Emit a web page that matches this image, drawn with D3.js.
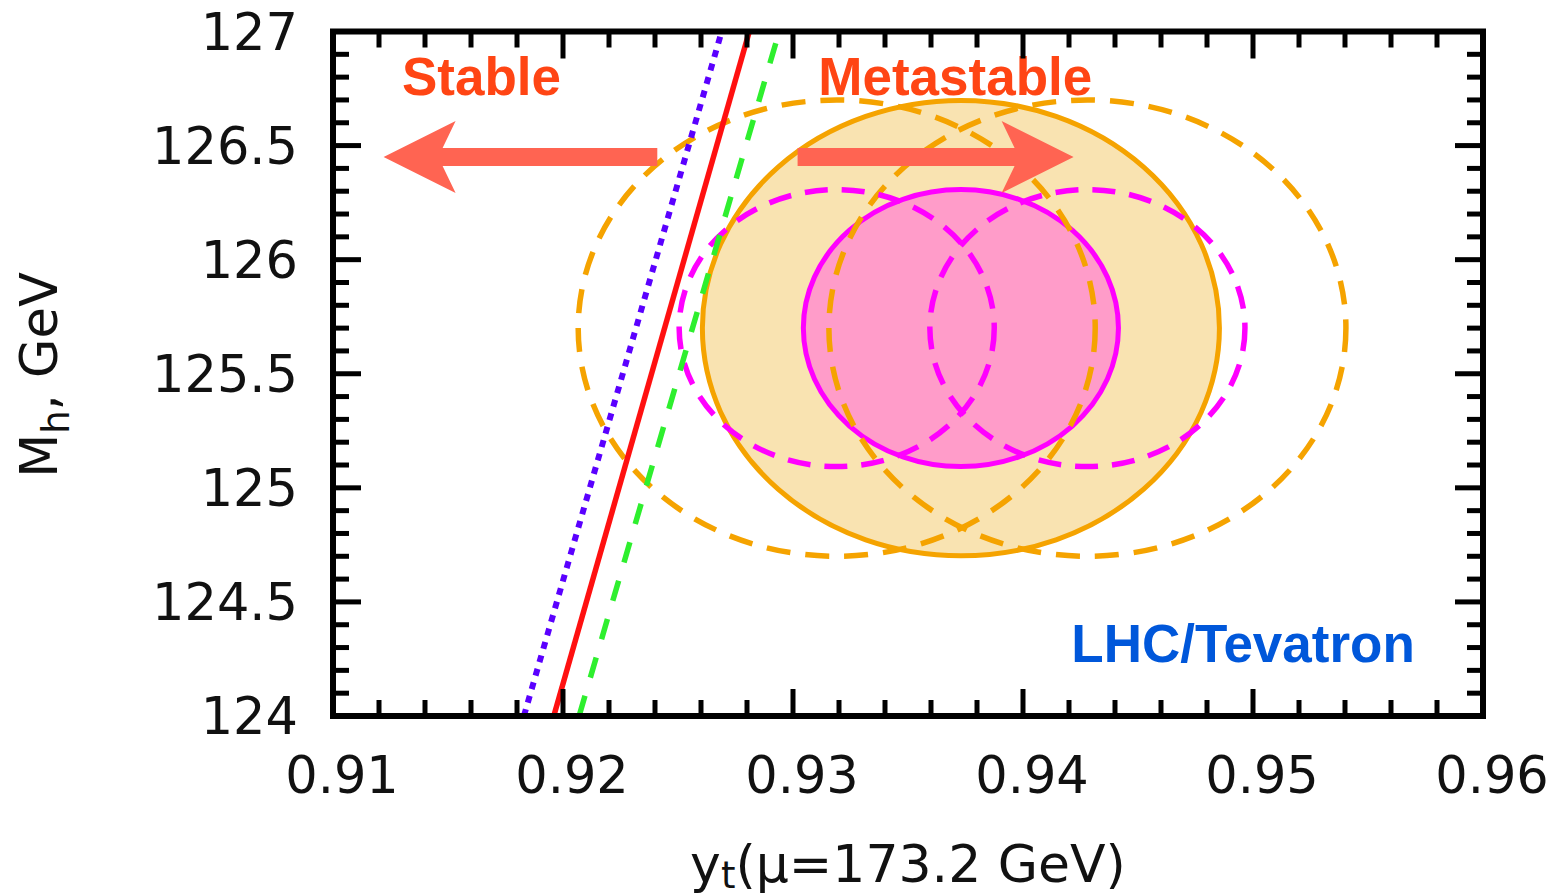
<!DOCTYPE html>
<html><head><meta charset="utf-8">
<script src="https://cdn.jsdelivr.net/npm/d3@7"></script>
<style>html,body{margin:0;padding:0;background:#fff;overflow:hidden}</style>
</head><body>
<svg id="chart" width="1558" height="896"></svg>
<script>
// ---------- data ----------
const xDomain = [0.91, 0.96];
const yDomain = [124, 127];
const xMajorTicks = [0.91, 0.92, 0.93, 0.94, 0.95, 0.96];
const xTickLabels = ["0.91", "0.92", "0.93", "0.94", "0.95", "0.96"];
const yMajorTicks = [124, 124.5, 125, 125.5, 126, 126.5, 127];
const yTickLabels = ["124", "124.5", "125", "125.5", "126", "126.5", "127"];
const xMinorStep = 0.002;
const yMinorStep = 0.1;

// stability boundary lines: y_t at M_h = 124 and at M_h = 127
const lineNames = ["blueDotted", "redSolid", "greenDashed"];
const lineYtBottom = [0.9183, 0.9196, 0.9207];
const lineYtTop = [0.9269, 0.9281, 0.9294];
const lineMh = [124, 127];

// ellipses (center y_t, center M_h, semi-axis y_t, semi-axis M_h)
const ellipseNames = ["orangeFilled", "magentaFilled", "orangeDashL", "orangeDashR", "magentaDashL", "magentaDashR"];
const ellipseCx = [0.9373, 0.9373, 0.9319, 0.9428, 0.9319, 0.9428];
const ellipseCy = [125.70, 125.70, 125.70, 125.70, 125.70, 125.70];
const ellipseRx = [0.01124, 0.00685, 0.01124, 0.01124, 0.00685, 0.00685];
const ellipseRy = [0.998, 0.607, 1.0, 1.0, 0.607, 0.607];

// arrows and annotations
const arrowTail = [0.9241, 0.9302];
const arrowTip = [0.9122, 0.9422];
const arrowMh = [126.45, 126.45];
const labelTexts = ["Stable", "Metastable", "LHC/Tevatron"];
const labelYt = [0.9130, 0.9311, 0.9421];
const labelMh = [126.72, 126.72, 124.235];

// ---------- drawing ----------
const svg = d3.select("#chart");
const x = d3.scaleLinear().domain(xDomain).range([333, 1483]);
const y = d3.scaleLinear().domain(yDomain).range([716, 31.5]);

const ellStyles = {
  orangeFilled: {fill: "#F9E3B1", stroke: "#F5A300", dash: null, w: 5},
  magentaFilled: {fill: "#FF9CC9", stroke: "#FF00FF", dash: null, w: 5},
  orangeDashL: {fill: "none", stroke: "#F5A300", dash: "24,15", w: 5.5},
  orangeDashR: {fill: "none", stroke: "#F5A300", dash: "24,15", w: 5.5},
  magentaDashL: {fill: "none", stroke: "#FF00FF", dash: "23,14", w: 5.5},
  magentaDashR: {fill: "none", stroke: "#FF00FF", dash: "23,14", w: 5.5}
};
const ellipses = ellipseNames.map((n, i) => ({name: n, cx: ellipseCx[i], cy: ellipseCy[i], rx: ellipseRx[i], ry: ellipseRy[i]}));

svg.append("clipPath").attr("id", "plotclip").append("rect")
  .attr("x", x(xDomain[0])).attr("y", y(yDomain[1]))
  .attr("width", x(xDomain[1]) - x(xDomain[0])).attr("height", y(yDomain[0]) - y(yDomain[1]));

const plot = svg.append("g").attr("clip-path", "url(#plotclip)");

plot.selectAll("ellipse.e").data(ellipses).enter().append("ellipse")
  .attr("cx", d => x(d.cx)).attr("cy", d => y(d.cy))
  .attr("rx", d => x(d.cx + d.rx) - x(d.cx))
  .attr("ry", d => y(d.cy) - y(d.cy + d.ry))
  .attr("fill", d => ellStyles[d.name].fill)
  .attr("stroke", d => ellStyles[d.name].stroke)
  .attr("stroke-width", d => ellStyles[d.name].w)
  .attr("stroke-dasharray", d => ellStyles[d.name].dash);

const lineStyles = {
  blueDotted: {stroke: "#5A00FF", width: 6, dash: "7,7"},
  redSolid: {stroke: "#FF1010", width: 5.5, dash: null},
  greenDashed: {stroke: "#2EEF2E", width: 5.5, dash: "21,19"}
};
const lineGen = d3.line().x(d => x(d[0])).y(d => y(d[1]));
lineNames.forEach((n, i) => {
  const pts = [[lineYtBottom[i], lineMh[0]], [lineYtTop[i], lineMh[1]]];
  plot.append("path").attr("d", lineGen(pts)).attr("fill", "none")
    .attr("stroke", lineStyles[n].stroke).attr("stroke-width", lineStyles[n].width)
    .attr("stroke-dasharray", lineStyles[n].dash);
});

// arrows
arrowTail.forEach((t, i) => {
  const tx = x(t), px = x(arrowTip[i]), cy = y(arrowMh[i]);
  const d = Math.sign(px - tx);
  const hw = 9, hh = 36, hl = 72, neck = 59;
  const pts = [[tx, cy - hw], [px - d * neck, cy - hw], [px - d * hl, cy - hh], [px, cy],
               [px - d * hl, cy + hh], [px - d * neck, cy + hw], [tx, cy + hw]];
  svg.append("path").attr("d", "M" + pts.map(p => p.join(",")).join("L") + "Z")
    .attr("fill", "#FF6452");
});

// labels
const labelColors = ["#FF4514", "#FF4514", "#0057DA"];
labelTexts.forEach((t, i) => {
  svg.append("text").attr("x", x(labelYt[i])).attr("y", y(labelMh[i]))
    .attr("font-family", "'Liberation Sans', Arial, sans-serif").attr("font-weight", "bold")
    .attr("font-size", 53).attr("fill", labelColors[i]).text(t);
});

// frame
const fx0 = x(xDomain[0]), fx1 = x(xDomain[1]), fy0 = y(yDomain[1]), fy1 = y(yDomain[0]);
const axG = svg.append("g").attr("stroke", "#000").attr("stroke-width", 5);
const xMinor = d3.range(xDomain[0] + xMinorStep, xDomain[1] - 1e-9, xMinorStep);
const yMinor = d3.range(yDomain[0] + yMinorStep, yDomain[1] - 1e-9, yMinorStep);
const isMajorX = v => xMajorTicks.some(m => Math.abs(m - v) < 1e-6);
const isMajorY = v => yMajorTicks.some(m => Math.abs(m - v) < 1e-6);
xMinor.forEach(v => {
  const len = isMajorX(v) ? 27 : 16;
  axG.append("line").attr("x1", x(v)).attr("x2", x(v)).attr("y1", fy0).attr("y2", fy0 + len);
  axG.append("line").attr("x1", x(v)).attr("x2", x(v)).attr("y1", fy1).attr("y2", fy1 - len);
});
yMinor.forEach(v => {
  const len = isMajorY(v) ? 28 : 16;
  axG.append("line").attr("y1", y(v)).attr("y2", y(v)).attr("x1", fx0).attr("x2", fx0 + len);
  axG.append("line").attr("y1", y(v)).attr("y2", y(v)).attr("x1", fx1).attr("x2", fx1 - len);
});
svg.append("rect").attr("x", fx0).attr("y", fy0).attr("width", fx1 - fx0).attr("height", fy1 - fy0)
  .attr("fill", "none").attr("stroke", "#000").attr("stroke-width", 6);

// tick labels
const tickFont = "'DejaVu Sans', sans-serif";
xMajorTicks.forEach((v, i) => {
  svg.append("text").attr("x", x(v) + 9).attr("y", 793).attr("text-anchor", "middle")
    .attr("font-family", tickFont).attr("font-size", 51).attr("fill", "#111").text(xTickLabels[i]);
});
yMajorTicks.forEach((v, i) => {
  svg.append("text").attr("x", 298).attr("y", y(v) + 18).attr("text-anchor", "end")
    .attr("font-family", tickFont).attr("font-size", 51).attr("fill", "#111").text(yTickLabels[i]);
});

// axis titles
const xt = svg.append("text").attr("x", 908).attr("y", 882).attr("text-anchor", "middle")
  .attr("font-family", tickFont).attr("font-size", 52).attr("fill", "#111");
xt.append("tspan").text("y");
xt.append("tspan").attr("font-size", 37).attr("dy", 6).text("t");
xt.append("tspan").attr("dy", -6).text("(μ=173.2 GeV)");

const yt = svg.append("text").attr("transform", "translate(57,375) rotate(-90)").attr("text-anchor", "middle")
  .attr("font-family", tickFont).attr("font-size", 51).attr("fill", "#111");
yt.append("tspan").text("M");
yt.append("tspan").attr("font-size", 37).attr("dy", 12).text("h");
yt.append("tspan").attr("dy", -12).text(", GeV");
</script>
</body></html>
